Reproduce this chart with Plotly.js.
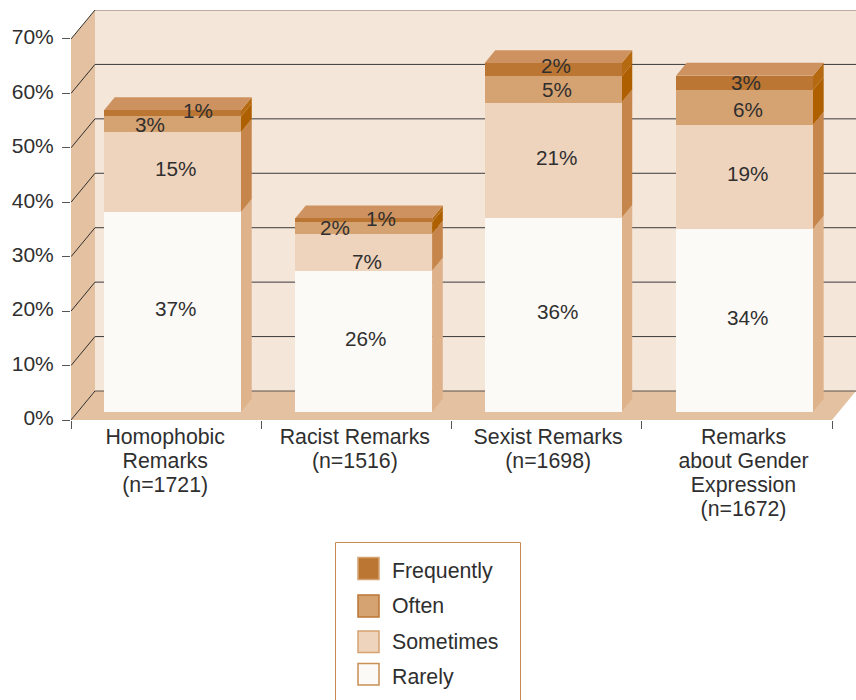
<!DOCTYPE html>
<html><head><meta charset="utf-8">
<script src="https://cdn.plot.ly/plotly-3.0.1.min.js"></script>
<style>html,body{margin:0;padding:0;background:#fff;overflow:hidden}</style>
</head><body><div id="chart" style="width:856px;height:700px"></div>
<script>
const categories = ['Homophobic<br>Remarks<br>(n=1721)','Racist Remarks<br>(n=1516)','Sexist Remarks<br>(n=1698)','Remarks<br>about Gender<br>Expression<br>(n=1672)'];
const seriesNames = ['Rarely','Sometimes','Often','Frequently'];
const rarely     = [36.7, 25.9, 35.6, 33.6];
const sometimes  = [14.7, 6.8, 21.2, 19.1];
const often      = [2.9, 2.1, 4.8, 6.4];
const frequently = [1.1, 0.7, 2.4, 2.6];
const yTicks = [0,10,20,30,40,50,60,70];

const series = [rarely, sometimes, often, frequently];
const faceColors = ['#fcfaf6','#eed3bd','#d5a271','#bc7633'];
const sideColors = ['#deb38c','#c6854b','#ae6000','#b56a12'];
const topColor = '#cd925f';
const wallColor = '#f5e6da', floorColor = '#e4c1a0';
const ink = '#2f2f2f';
// label nudges in pixels (right / down) from each segment's centre
const labelDx = [[3,2,4,3],[3,3,3,3],[-23,-29,4,3],[25,17,3,1]];
const labelDy = [[-3,-3,-3,-3],[-3,9,-3,-3],[0,0,0,2.5],[-3,-2,-4.5,0]];
// geometry
const W=856,H=700, left=71, right=832, baseY=420, topY=10, pxPerCat=(right-left)/4, pxPerPct=5.443;
const wallDx=24/pxPerCat, wallDy=29/pxPerPct;
const barW=137/pxPerCat, barOff=[-0.3264,-0.322,-0.3264,-0.320], lift=8.3/pxPerPct;
const depthX=10.7/pxPerCat, depthY=13/pxPerPct;
const x0=-0.5, x1=3.5, yMax=(baseY-topY)/pxPerPct;
const axisFont=21.3, tickFont=21, valueFont=20.7;

const poly=(pts,fill,xref='x',yref='y')=>({type:'path',xref,yref,layer:'below',fillcolor:fill,line:{width:0},
  path:'M'+pts.map(p=>p[0]+','+p[1]).join('L')+'Z'});
const seg=(a,b,color,xref='x',yref='y',w=1)=>({type:'line',xref,yref,layer:'below',x0:a[0],y0:a[1],x1:b[0],y1:b[1],line:{color,width:w}});

const shapes=[];
shapes.push(poly([[x0+wallDx,wallDy],[x1+wallDx,wallDy],[x1+wallDx,yMax],[x0+wallDx,yMax]],wallColor));
shapes.push(poly([[x0,0],[x0+wallDx,wallDy],[x0+wallDx,yMax],[x0,70]],floorColor));
shapes.push(poly([[x0,0],[x0+wallDx,wallDy],[x1+wallDx,wallDy],[x1,0]],floorColor));
yTicks.forEach(v=>{
  const c = v===70 ? '#80706a' : (v===0 ? '#5a5048' : '#3a3a3a');
  shapes.push(seg([x0+wallDx,v+wallDy],[x1+wallDx,v+wallDy],c));
  shapes.push(seg([x0,v],[x0+wallDx,v+wallDy],'#2f2f2f'));
});
categories.forEach((c,i)=>{
  const xl=i+barOff[i], xr=xl+barW;
  let cum=0;
  series.forEach((s,k)=>{
    const y0=cum, y1=cum+s[i];
    shapes.push(poly([[xr,y0],[xr+depthX,y0+depthY],[xr+depthX,y1+depthY],[xr,y1]],sideColors[k],'x','y2'));
    cum=y1;
  });
  shapes.push(poly([[xl,cum],[xl+depthX,cum+depthY],[xr+depthX,cum+depthY],[xr,cum]],topColor,'x','y2'));
});

// legend
const px=x=>x/W, py=y=>1-y/H;
const legendRows=[['Frequently',3,557.5,579.5,'#d5a271',571],['Often',2,595,617,'#bc7633',606],['Sometimes',1,631,652.5,'#d5a271',642],['Rarely',0,663.5,685,'#c98f55',677]];
shapes.push({type:'rect',xref:'paper',yref:'paper',x0:px(335.5),x1:px(520.5),y0:py(703),y1:py(542.5),line:{color:'#c48a4f',width:1},fillcolor:'#fff'});
const annotations=[];
legendRows.forEach(r=>{
  shapes.push({type:'rect',xref:'paper',yref:'paper',x0:px(358),x1:px(379),y0:py(r[3]),y1:py(r[2]),fillcolor:faceColors[r[1]],line:{color:r[4],width:1.5}});
  annotations.push({xref:'paper',yref:'paper',x:px(390),y:py(r[5]),text:r[0],showarrow:false,xanchor:'left',yanchor:'middle',font:{size:axisFont,color:ink}});
});
// segment value labels
series.forEach((s,k)=>{
  s.forEach((v,i)=>{
    let cum=0; for(let j=0;j<k;j++) cum+=series[j][i];
    annotations.push({xref:'x',yref:'y2',x:i+barOff[i]+barW/2,y:cum+v/2,text:Math.round(v)+'%',showarrow:false,
      xshift:labelDx[k][i],yshift:-labelDy[k][i],font:{size:valueFont,color:ink}});
  });
});

const traces=series.map((s,k)=>({type:'bar',name:seriesNames[k],x:[0,1,2,3],y:s,xaxis:'x',yaxis:'y2',
  width:barW,offset:barOff,marker:{color:faceColors[k],line:{width:0}},hoverinfo:'skip'}));

const layout={width:W,height:H,margin:{l:0,r:0,t:0,b:0,pad:0},paper_bgcolor:'#fff',plot_bgcolor:'rgba(0,0,0,0)',
  barmode:'stack',showlegend:false,shapes,annotations,
  font:{family:'"Liberation Sans",Arial,sans-serif',size:20,color:ink},
  xaxis:{domain:[left/W,1],range:[x0,x1+wallDx],tickmode:'array',tickvals:[-0.005,0.992,2.008,3.035],ticktext:categories,tickangle:0,
    ticks:'',ticklen:0,showgrid:false,zeroline:false,showline:false,ticklabelstandoff:2,tickfont:{size:axisFont,color:ink},
    minor:{tickmode:'array',tickvals:[-0.5,0.5,1.5,2.5,3.5],ticks:'outside',ticklen:8,tickcolor:'#555',tickwidth:1,showgrid:false}},
  yaxis:{domain:[(H-baseY)/H,(H-topY)/H],range:[0,yMax],tickmode:'array',tickvals:yTicks,ticktext:yTicks.map(v=>v+'%'),
    ticks:'outside',ticklen:8,tickcolor:'#555',tickwidth:1,showgrid:false,zeroline:false,showline:false,
    ticklabelstandoff:4,ticklabelshift:-2,tickfont:{size:tickFont,color:ink}},
  yaxis2:{domain:[(H-baseY)/H,(H-topY)/H],range:[-lift,yMax-lift],overlaying:'y',visible:false,showgrid:false,zeroline:false}
};
Plotly.newPlot('chart',traces,layout,{displayModeBar:false,staticPlot:true}).then(()=>{
  document.querySelectorAll('.xtick text tspan.line').forEach(t=>{
    const d=parseFloat(t.getAttribute('dy')||'0'); t.setAttribute('dy',(d*24/(1.3*axisFont))+'em');
  });
});
</script></body></html>
